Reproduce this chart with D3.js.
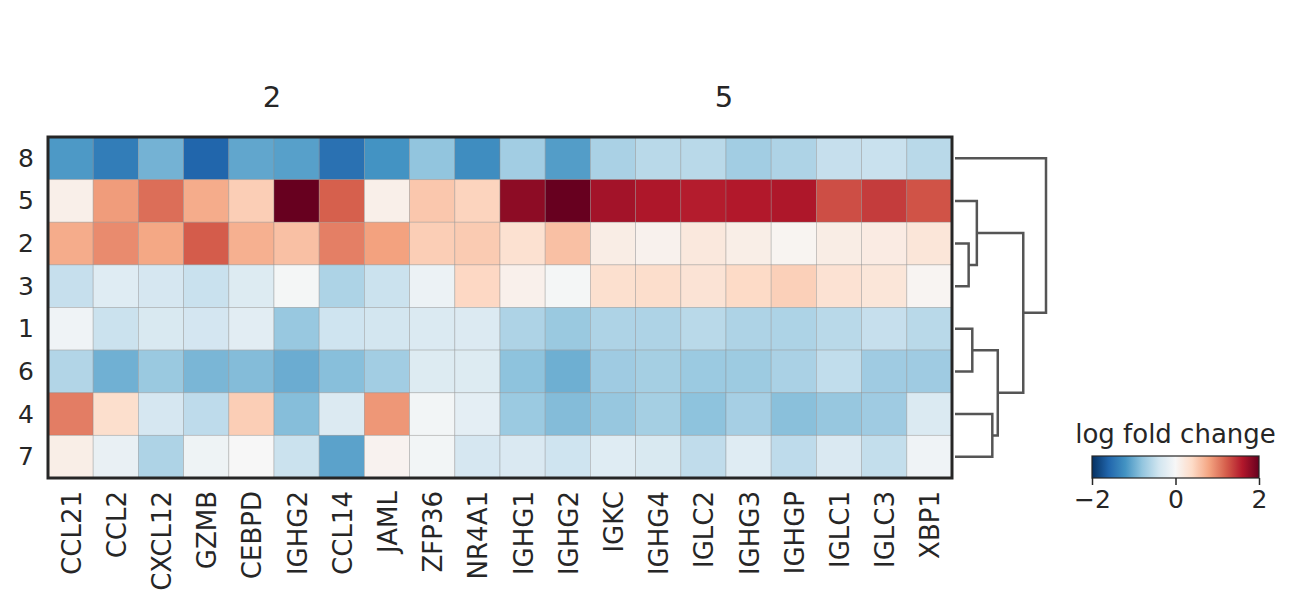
<!DOCTYPE html>
<html>
<head>
<meta charset="utf-8">
<script src="https://cdn.jsdelivr.net/npm/d3@7"></script>
<style>
  html, body { margin: 0; padding: 0; background: #fff; }
  svg text { font-family: "DejaVu Sans", sans-serif; fill: #262626; }
</style>
</head>
<body>
<svg id="chart" width="1291" height="609"></svg>
<script>
const genes = ["CCL21","CCL2","CXCL12","GZMB","CEBPD","IGHG2","CCL14","JAML","ZFP36","NR4A1",
               "IGHG1","IGHG2","IGKC","IGHG4","IGLC2","IGHG3","IGHGP","IGLC1","IGLC3","XBP1"];
const groups = [{label: "2", start: 0, end: 9}, {label: "5", start: 10, end: 19}];
const clusters = ["8","5","2","3","1","6","4","7"];

const row8 = [-1.15,-1.4,-0.95,-1.6,-1.05,-1.1,-1.5,-1.2,-0.8,-1.25,-0.7,-1.12,-0.65,-0.55,-0.55,-0.7,-0.62,-0.47,-0.45,-0.55];
const row5 = [0.12,0.85,1.12,0.75,0.5,2.0,1.2,0.12,0.55,0.45,1.8,2.0,1.68,1.62,1.58,1.6,1.62,1.3,1.4,1.27];
const row2 = [0.75,0.95,0.78,1.22,0.72,0.6,1.02,0.82,0.5,0.52,0.32,0.6,0.15,0.08,0.22,0.13,0.05,0.15,0.17,0.25];
const row3 = [-0.47,-0.25,-0.35,-0.45,-0.27,-0.03,-0.63,-0.44,-0.12,0.42,0.1,-0.03,0.33,0.36,0.28,0.4,0.48,0.3,0.25,0.04];
const row1 = [-0.08,-0.44,-0.32,-0.37,-0.22,-0.76,-0.41,-0.38,-0.3,-0.28,-0.62,-0.75,-0.62,-0.62,-0.55,-0.62,-0.63,-0.55,-0.47,-0.55];
const row6 = [-0.6,-0.97,-0.75,-0.92,-0.87,-1.0,-0.85,-0.7,-0.27,-0.27,-0.82,-0.98,-0.72,-0.68,-0.74,-0.73,-0.65,-0.5,-0.72,-0.72];
const row4 = [1.03,0.35,-0.35,-0.52,0.5,-0.86,-0.28,0.88,-0.05,-0.2,-0.74,-0.87,-0.77,-0.68,-0.82,-0.67,-0.84,-0.77,-0.72,-0.29];
const row7 = [0.13,-0.15,-0.62,-0.1,0.0,-0.44,-1.08,0.07,-0.05,-0.35,-0.31,-0.41,-0.25,-0.32,-0.51,-0.25,-0.52,-0.31,-0.49,-0.08];
const rows = [row8,row5,row2,row3,row1,row6,row4,row7];

// dendrogram merges: [left, right, height]; leaves are cluster indices 0..7 in display order
const merges = [
  [2, 3, 0.15],   // node 8: 2+3
  [1, 8, 0.24],   // node 9: 5 + (2,3)
  [4, 5, 0.19],   // node 10: 1+6
  [6, 7, 0.41],   // node 11: 4+7
  [10, 11, 0.47], // node 12
  [9, 12, 0.75],  // node 13
  [0, 13, 1.0]    // node 14: root
];

const colorTicks = [-2, 0, 2];
const colorTickLabels = ["\u22122", "0", "2"];
const legendTitle = "log fold change";
// RdBu_r anchor colours (matplotlib)
const rdbuR = ["#053061","#2166ac","#4393c3","#92c5de","#d1e5f0","#f7f7f7","#fddbc7","#f4a582","#d6604d","#b2182b","#67001f"];

const svg = d3.select("#chart");
const L = 48, R = 952, T = 137, B = 478;

const x = d3.scaleBand().domain(d3.range(genes.length)).range([L, R]).padding(0);
const y = d3.scaleBand().domain(clusters).range([T, B]).padding(0);
const color = d3.scaleLinear()
  .domain(d3.range(rdbuR.length).map(i => -2 + 4 * i / (rdbuR.length - 1)))
  .range(rdbuR).interpolate(d3.interpolateRgb).clamp(true);

// cells
const cells = [];
rows.forEach((r, i) => r.forEach((v, j) => cells.push({row: clusters[i], col: j, v})));
svg.append("g").selectAll("rect").data(cells).join("rect")
  .attr("x", d => x(d.col)).attr("y", d => y(d.row))
  .attr("width", x.bandwidth()).attr("height", y.bandwidth())
  .attr("fill", d => color(d.v))
  .attr("stroke", "rgba(140,140,140,0.45)").attr("stroke-width", 0.8);

// frame
svg.append("rect").attr("x", L).attr("y", T).attr("width", R - L).attr("height", B - T)
  .attr("fill", "none").attr("stroke", "#262626").attr("stroke-width", 3);

// row labels
svg.append("g").selectAll("text").data(clusters).join("text")
  .attr("x", L - 14).attr("y", d => y(d) + y.bandwidth() / 2)
  .attr("text-anchor", "end").attr("dominant-baseline", "central")
  .attr("font-size", 25).text(d => d);

// column labels
svg.append("g").selectAll("text").data(genes).join("text")
  .attr("transform", (d, i) => `translate(${x(i) + x.bandwidth() / 2 + 1},${B + 13}) rotate(-90)`)
  .attr("text-anchor", "end").attr("dominant-baseline", "central")
  .attr("font-size", 26).text(d => d);

// group labels
svg.append("g").selectAll("text").data(groups).join("text")
  .attr("x", d => (x(d.start) + x(d.end) + x.bandwidth()) / 2 - 2)
  .attr("y", 97).attr("text-anchor", "middle").attr("dominant-baseline", "central")
  .attr("font-size", 29).text(d => d.label);

// dendrogram
const dx = d3.scaleLinear().domain([0, 1]).range([955, 1046]);
const nodes = clusters.map((c, i) => ({pos: y(c) + y.bandwidth() / 2, h: 0}));
const dg = svg.append("g").attr("fill", "none").attr("stroke", "#555").attr("stroke-width", 2.5);
merges.forEach(([a, b, h]) => {
  const na = nodes[a], nb = nodes[b];
  dg.append("path").attr("d",
    `M${dx(na.h)},${na.pos}H${dx(h)}V${nb.pos}H${dx(nb.h)}`);
  nodes.push({pos: (na.pos + nb.pos) / 2, h});
});

// colorbar
const cbL = 1092, cbR = 1259, cbT = 456, cbB = 478;
const cx = d3.scaleLinear().domain([-2, 2]).range([cbL, cbR]);
const defs = svg.append("defs");
const grad = defs.append("linearGradient").attr("id", "cbgrad");
d3.range(0, 1.0001, 0.02).forEach(t => {
  grad.append("stop").attr("offset", t).attr("stop-color", color(-2 + 4 * t));
});
svg.append("rect").attr("x", cbL).attr("y", cbT).attr("width", cbR - cbL).attr("height", cbB - cbT)
  .attr("fill", "url(#cbgrad)").attr("stroke", "#262626").attr("stroke-width", 1.2);
const axis = d3.axisBottom(cx).tickValues(colorTicks).tickFormat((d, i) => colorTickLabels[i]).tickSize(7).tickPadding(5);
const ag = svg.append("g").attr("transform", `translate(0,${cbB})`).call(axis);
ag.select(".domain").remove();
ag.selectAll("line").attr("stroke", "#262626").attr("stroke-width", 1.5);
ag.selectAll("text").attr("font-size", 25).attr("font-family", "DejaVu Sans").attr("fill", "#262626");
svg.append("text").attr("x", (cbL + cbR) / 2).attr("y", 443).attr("text-anchor", "middle")
  .attr("font-size", 26).text(legendTitle);
</script>
</body>
</html>
